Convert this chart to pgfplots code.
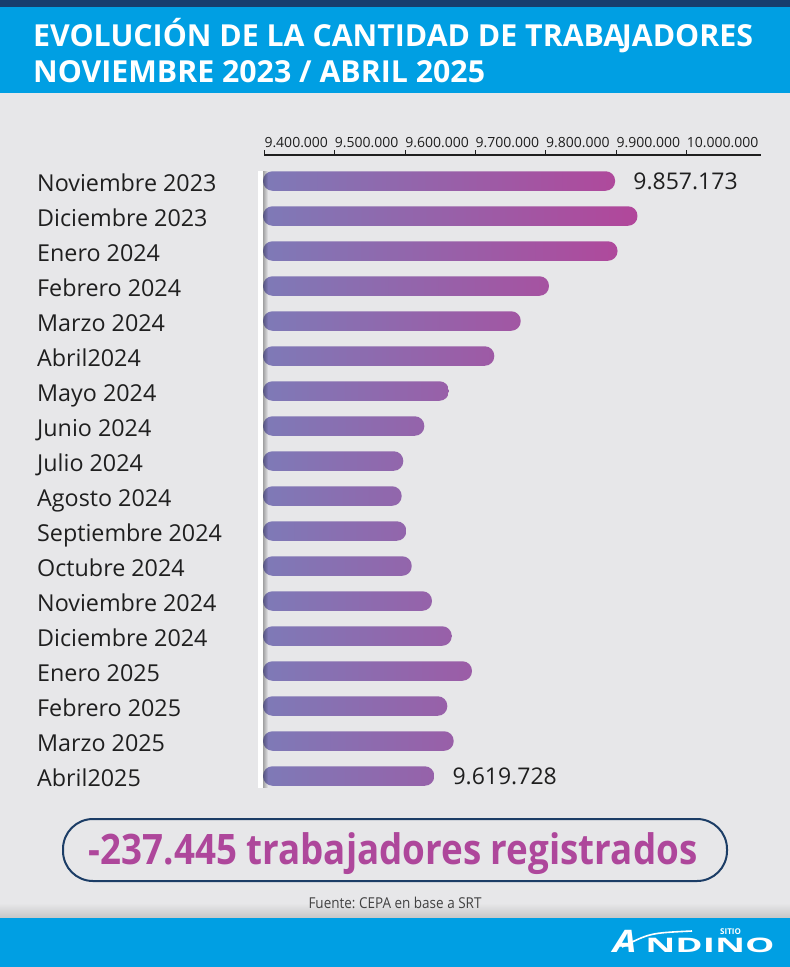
\documentclass[border=0pt]{standalone}
\usepackage{fontspec}
\setmainfont{Open Sans}
\usepackage{pgfplots}
\pgfplotsset{compat=1.18}
\usetikzlibrary{fadings}
\definecolor{bg}{HTML}{E7E7E9}
\definecolor{navy}{HTML}{173E6E}
\definecolor{hblue}{HTML}{009FE3}
\definecolor{barL}{HTML}{7E7AB7}
\definecolor{barR}{HTML}{B2469A}
\definecolor{txt}{HTML}{1F1F1F}
\definecolor{boxc}{HTML}{1C3D66}
\definecolor{mag}{HTML}{AE479B}
\newcommand{\fs}[1]{\fontsize{#1}{#1}\selectfont}
% one bar: value, percent of end colour, row
\newcommand{\hb}[3]{\addplot[xbar, bar shift=0pt, bar width=19.5pt, draw=none, rounded corners=9.5pt, left color=barL, right color=barR!#2!barL] coordinates {(#1,#3)};}
\begin{document}
\frenchspacing
\begin{tikzpicture}
\useasboundingbox (0,0) rectangle (790pt,-967pt);
\fill[bg] (0,0) rectangle (790pt,-967pt);
\fill[hblue] (0,0) rectangle (790pt,-93pt);
\fill[navy] (0,0) rectangle (790pt,-7pt);
\shade[top color=bg, bottom color=black!22] (0,-903pt) rectangle (790pt,-918pt);
\fill[hblue] (0,-918pt) rectangle (790pt,-967pt);
% title
\node[anchor=base west, inner sep=0pt, text=white, font=\fs{30.3}\bfseries] at (33pt,-46pt) {EVOLUCIÓN DE LA CANTIDAD DE TRABA\kern-2.5pt JADORES};
\node[anchor=base west, inner sep=0pt, text=white, font=\fs{30.3}\bfseries] at (33pt,-82pt) {NOVIEMBRE 2023 / ABRIL 2025};
% ruler axis
\begin{axis}[at={(264.3pt,-155pt)}, anchor=south west, scale only axis,
  width=496.4pt, height=20pt, xmin=9400000, xmax=10105000, ymin=0, ymax=1,
  axis x line=bottom, axis y line=none, tick align=inside, major tick length=5pt,
  xtick={9400000,9500000,9600000,9700000,9800000,9900000,10000000},
  xticklabels={9.400.000,9.500.000,9.600.000,9.700.000,9.800.000,9.900.000,10.000.000},
  scaled x ticks=false,
  xticklabel style={anchor=base west, inner sep=0pt, yshift=8pt, font=\fs{14}, text=txt},
  x axis line style={line width=1.3pt, draw=txt, -},
  xtick style={line width=1pt, draw=txt}]
\end{axis}
% bars axis
\begin{axis}[at={(263pt,-163.5pt)}, anchor=north west, scale only axis,
  width=527pt, height=630pt,
  x filter/.expression={x-9380000},
  xmin=14811, xmax=706762, ymin=-0.5, ymax=17.5, y dir=reverse,
  axis line style={draw=none}, tick style={draw=none}, xtick=\empty,
  ytick={0,...,17},
  yticklabels={Noviembre 2023, Diciembre 2023, Enero 2024, Febrero 2024, Marzo 2024, Abril2024, Mayo 2024, Junio 2024, Julio 2024, Agosto 2024, Septiembre 2024, Octubre 2024, Noviembre 2024, Diciembre 2024, Enero 2025, Febrero 2025, Marzo 2025, Abril2025},
  yticklabel style={anchor=base west, inner sep=0pt, xshift=-226pt, yshift=-10.5pt, font=\fs{23.3}, text=txt}]
\hb{9857173}{94}{0}
\hb{9886500}{99}{1}
\hb{9860300}{94}{2}
\hb{9770300}{77}{3}
\hb{9733200}{69}{4}
\hb{9698500}{62}{5}
\hb{9639000}{51}{6}
\hb{9606600}{44}{7}
\hb{9579000}{39}{8}
\hb{9576900}{39}{9}
\hb{9583000}{40}{10}
\hb{9590100}{41}{11}
\hb{9616700}{46}{12}
\hb{9642600}{51}{13}
\hb{9669200}{57}{14}
\hb{9636800}{50}{15}
\hb{9645200}{52}{16}
\hb{9619728}{47}{17}
\addplot[draw=none, nodes near coords={9.857.173}, nodes near coords style={anchor=base west, inner sep=0pt, xshift=18pt, yshift=-8pt, text=txt, font=\fs{23}}] coordinates {(9857173,0)};
\addplot[draw=none, nodes near coords={9.619.728}, nodes near coords style={anchor=base west, inner sep=0pt, xshift=18pt, yshift=-8pt, text=txt, font=\fs{23}}] coordinates {(9619728,17)};
\end{axis}
% white baseline with shadow
\fill[black, opacity=0.3, path fading=east] (263pt,-170.5pt) rectangle (268pt,-788pt);
\fill[white] (257.5pt,-170.5pt) rectangle (263pt,-788pt);
% summary box
\draw[boxc, line width=2pt, rounded corners=30pt] (63pt,-819pt) rectangle (727pt,-881pt);
\node[anchor=base, inner sep=0pt, text=mag, font=\fs{42}\bfseries, xscale=0.875] at (393pt,-864pt) {-237.445 trabajadores registrados};
\node[anchor=base, inner sep=0pt, text=txt!85, font=\fs{15}, xscale=0.9] at (395pt,-908pt) {Fuente: CEPA en base a SRT};
% logo
\draw[white, line width=1.6pt] (622pt,-947pt) .. controls (650pt,-933pt) .. (692pt,-931pt);
\node[anchor=base west, inner sep=0pt, text=white, font=\fs{31}\bfseries\itshape, xscale=1.2] at (613pt,-952pt) {A};
\node[anchor=base west, inner sep=0pt, text=white, font=\fs{20}\bfseries, xscale=1.85] at (645pt,-952pt) {NDINO};
\node[anchor=base west, inner sep=0pt, text=white, font=\fs{8}\bfseries] at (720pt,-934.5pt) {SITIO};
\end{tikzpicture}
\end{document}
